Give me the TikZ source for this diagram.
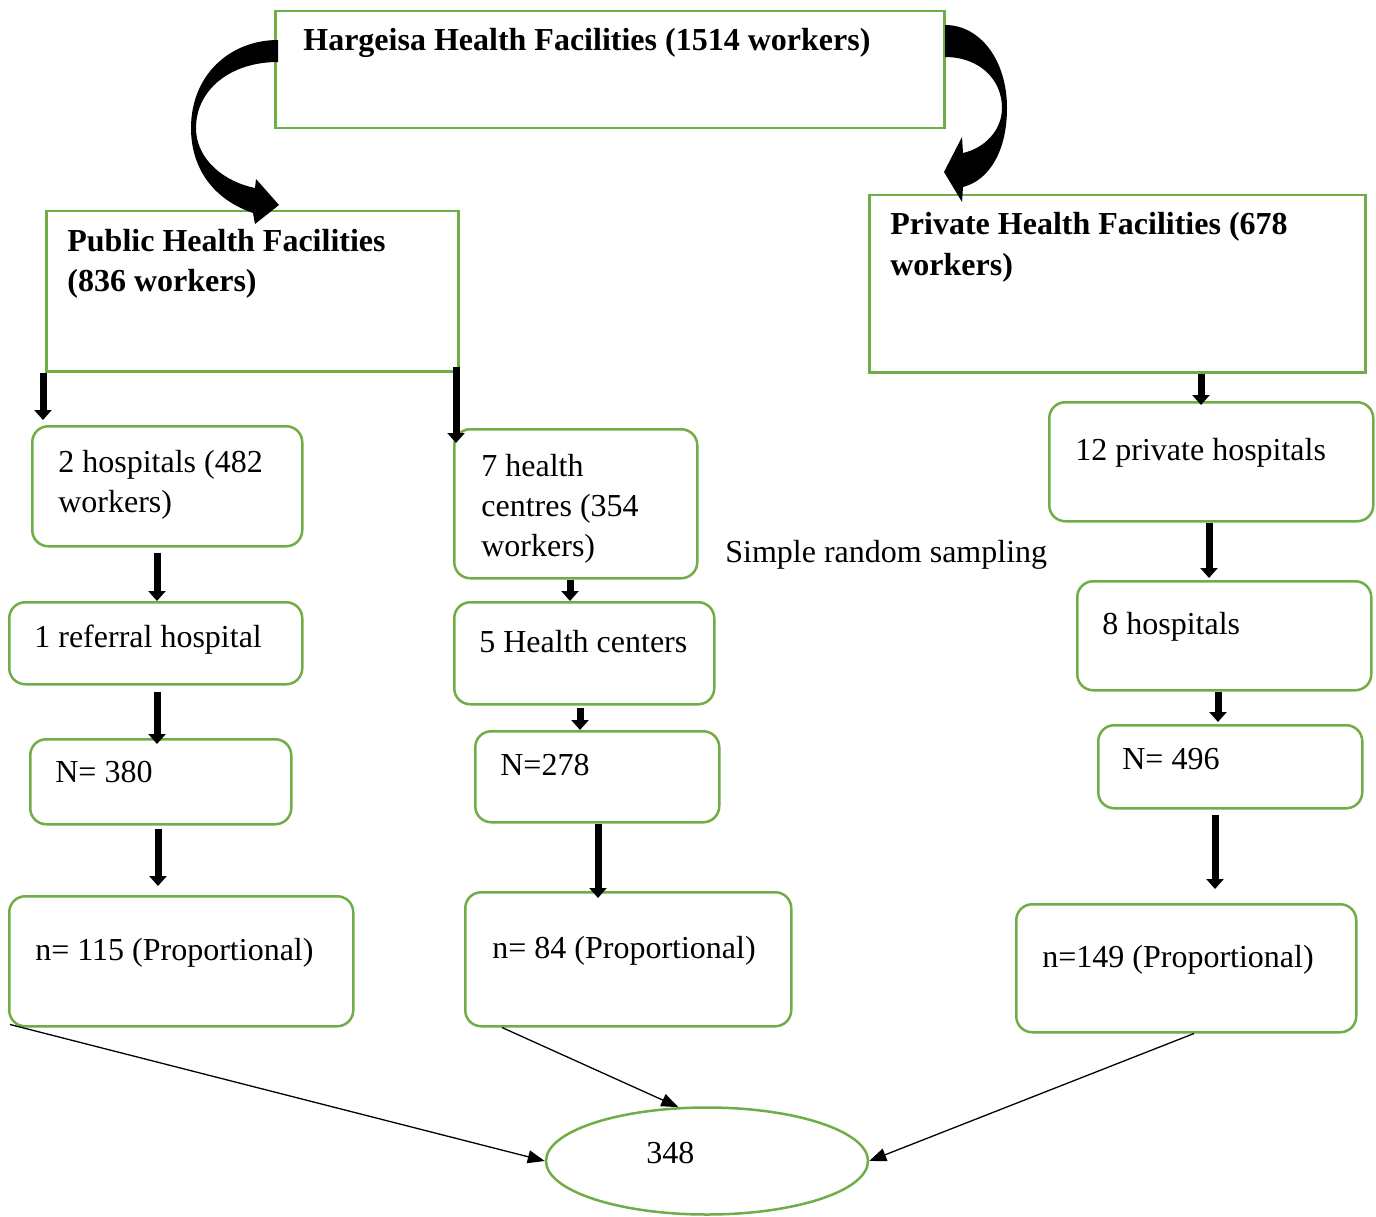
\documentclass[tikz,border=0pt]{standalone}
\usepackage{fontspec}
\setmainfont{Liberation Serif}
\usetikzlibrary{arrows.meta,shapes.geometric}
\definecolor{hgreen}{RGB}{112,173,71}

\tikzset{every picture/.style={line width=0.75pt}}
\tikzset{
  gbox/.style={draw=hgreen,line width=2.5pt,anchor=north west,inner sep=0pt},
  rbox/.style={gbox,rounded corners=16pt},
  txt/.style={anchor=base west,inner sep=0pt,align=left,font=\fontsize{32}{40}\selectfont},
  fat/.style={line width=7pt,-{Triangle[width=17pt,length=10pt]}},
  thin/.style={line width=1.3pt,-{Triangle[width=13pt,length=17pt]}}
}

\begin{document}
\begin{tikzpicture}[x=1pt,y=1pt,yscale=-1,xscale=1]
\useasboundingbox (0,0) rectangle (1376,1217);

% Shapes: boxes
\node [gbox,minimum width=669pt,minimum height=117pt] (top) at (274,10) {};
\node [gbox,minimum width=412pt,minimum height=160pt] (pub) at (45,210) {};
\node [gbox,minimum width=496pt,minimum height=177pt] (priv) at (868,194) {};
\node [rbox,minimum width=270pt,minimum height=120pt] (b2) at (31,425) {};
\node [rbox,minimum width=243pt,minimum height=149pt] (b7) at (453,428) {};
\node [rbox,minimum width=324pt,minimum height=119pt] (b12) at (1048,401) {};
\node [rbox,minimum width=293pt,minimum height=82pt] (bref) at (8,601) {};
\node [rbox,minimum width=260pt,minimum height=102pt] (b5) at (453,601) {};
\node [rbox,minimum width=294pt,minimum height=109pt] (b8) at (1076,580) {};
\node [rbox,minimum width=261pt,minimum height=85pt] (bN380) at (29,738) {};
\node [rbox,minimum width=244pt,minimum height=91pt] (bN278) at (474,730) {};
\node [rbox,minimum width=264pt,minimum height=83pt] (bN496) at (1097,724) {};
\node [rbox,minimum width=344pt,minimum height=130pt] (b115) at (8,895) {};
\node [rbox,minimum width=326pt,minimum height=134pt] (b84) at (464,891) {};
\node [rbox,minimum width=340pt,minimum height=128pt] (b149) at (1015,903) {};
\node [ellipse,draw=hgreen,line width=2.5pt,minimum width=322pt,minimum height=107pt] (total) at (707,1161) {};

% Text Node (base = last line)
\node [txt,font=\fontsize{32}{40}\selectfont\bfseries] (ttop) at (303,51) {Hargeisa Health Facilities (1514 workers)};
\node [txt,font=\fontsize{32}{40}\selectfont\bfseries] (tpub) at (67,291) {Public Health Facilities\\(836 workers)};
\node [txt,font=\fontsize{32}{40}\selectfont\bfseries] (tpriv) at (890,275) {Private Health Facilities (678\\workers)};
\node [txt] (t2) at (58,512) {2 hospitals (482\\workers)};
\node [txt] (t7) at (481,556) {7 health\\centres (354\\workers)};
\node [txt] (t12) at (1075,460) {12 private hospitals};
\node [txt] (tref) at (34,647) {1 referral hospital};
\node [txt] (t5) at (479,652) {5 Health centers};
\node [txt] (t8) at (1102,634) {8 hospitals};
\node [txt] (tN380) at (55,782) {N= 380};
\node [txt] (tN278) at (500,775) {N=278};
\node [txt] (tN496) at (1122,769) {N= 496};
\node [txt] (t115) at (35,960) {n= 115 (Proportional)};
\node [txt] (t84) at (492,958) {n= 84 (Proportional)};
\node [txt] (t149) at (1042,967) {n=149 (Proportional)};
\node [txt] (ttotal) at (646,1163) {348};
\node [txt] (tsrs) at (725,562) {Simple random sampling};

% Curved arrows
\fill (278,40) -- (278,62) .. controls (230,62) and (196,90) .. (196,128)
  .. controls (196,160) and (225,182) .. (255,188) -- (256,179) -- (279,205)
  -- (255,224) -- (253,213) .. controls (215,200) and (191,170) .. (191,128)
  .. controls (191,75) and (230,40) .. (278,40) -- cycle;
\fill (945,25) -- (945,57) .. controls (980,57) and (1002,80) .. (1002,108)
  .. controls (1002,130) and (985,148) .. (963,153) -- (962,137) -- (944,172)
  -- (962,202) -- (963,187) .. controls (990,180) and (1007,150) .. (1007,108)
  .. controls (1007,60) and (980,25) .. (945,25) -- cycle;

% Straight arrows
\draw [fat,shorten >=5pt] (43,0 |- pub.south) -- (43,0 |- b2.north);
\draw [fat,shorten <=-6pt,shorten >=-15pt] (456,0 |- pub.south) -- (456,0 |- b7.north);
\draw [fat,shorten >=-4pt] (1201,0 |- priv.south) -- (1201,0 |- b12.north);
\draw [fat,shorten <=5pt] (157,0 |- b2.south) -- (157,0 |- bref.north);
\draw [fat] (570,0 |- b7.south) -- (570,0 |- b5.north);
\draw [fat,shorten >=2pt] (1209,0 |- b12.south) -- (1209,0 |- b8.north);
\draw [fat,shorten <=6pt,shorten >=-6pt] (157,0 |- bref.south) -- (157,0 |- bN380.north);
\draw [fat,shorten <=2pt] (580,0 |- b5.south) -- (580,0 |- bN278.north);
\draw [fat,shorten >=2pt] (1218,0 |- b8.south) -- (1218,0 |- bN496.north);
\draw [fat,shorten <=3pt,shorten >=9pt] (158,0 |- bN380.south) -- (158,0 |- b115.north);
\draw [fat,shorten >=-7pt] (598,0 |- bN278.south) -- (598,0 |- b84.north);
\draw [fat,shorten <=5pt,shorten >=14pt] (1215,0 |- bN496.south) -- (1215,0 |- b149.north);

% Arrows to total
\draw [thin] (b115.south west) ++(2,-3) -- (total.west);
\draw [thin] (502,0 |- b84.south) -- (total.118);
\draw [thin] (1194,0 |- b149.south) -- (total.east);
\end{tikzpicture}
\end{document}
